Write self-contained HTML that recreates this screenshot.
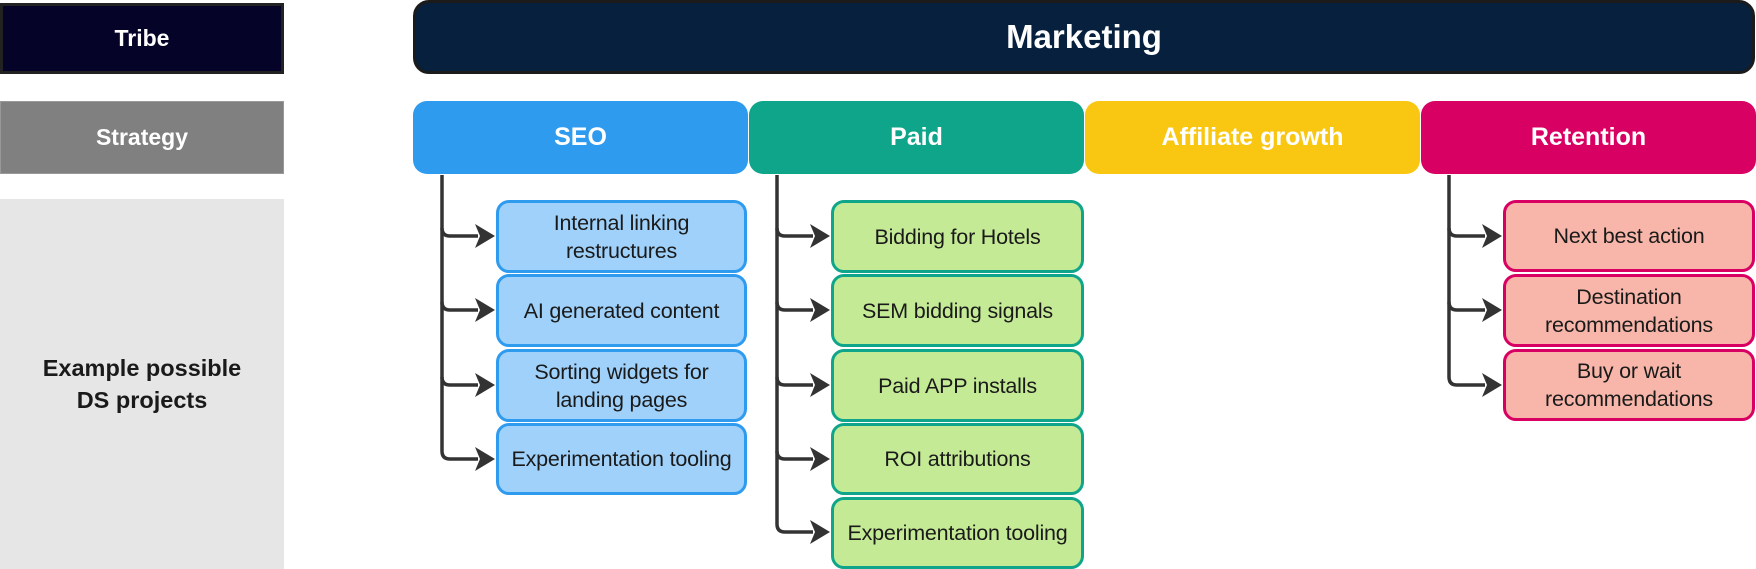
<!DOCTYPE html>
<html><head><meta charset="utf-8"><style>
*{box-sizing:border-box;margin:0;padding:0}
body{width:1756px;height:569px;background:#fff;position:relative;overflow:hidden;font-family:"Liberation Sans",sans-serif}
.b{position:absolute;display:flex;align-items:center;justify-content:center;text-align:center}
.h{color:#fff;font-weight:bold;font-size:25px}
.c{border:3px solid;border-radius:13px;font-size:21.5px;color:#1a1a1a;line-height:28px;letter-spacing:-0.2px}
.s{border-color:#2f9bef;background:#9fd1fb}
.p{border-color:#0ea58a;background:#c4ea96}
.r{border-color:#d80062;background:#f7b6a9}
</style></head><body>
<div class="b h" style="left:0;top:3px;width:284px;height:71px;background:#050327;border:3px solid #222;font-size:23px">Tribe</div>
<div class="b h" style="left:0;top:101px;width:284px;height:73px;background:#808080;border:1px solid #999;font-size:23px">Strategy</div>
<div class="b" style="left:0;top:199px;width:284px;height:370px;background:#e6e6e6;font-weight:bold;font-size:23.5px;color:#1a1a1a;line-height:32px">Example possible<br>DS projects</div>

<div class="b h" style="left:413px;top:0;width:1342px;height:74px;background:#06203d;border:3px solid #1b1b1b;border-radius:16px;font-size:33px">Marketing</div>

<div class="b h" style="left:413px;top:101px;width:335px;height:73px;background:#2f9bef;border-radius:14px">SEO</div>
<div class="b h" style="left:749px;top:101px;width:335px;height:73px;background:#0ea58a;border-radius:14px">Paid</div>
<div class="b h" style="left:1085px;top:101px;width:335px;height:73px;background:#f9c712;border-radius:14px">Affiliate growth</div>
<div class="b h" style="left:1421px;top:101px;width:335px;height:73px;background:#d80062;border-radius:14px">Retention</div>

<svg style="position:absolute;left:0;top:0" width="1756" height="569">
<g fill="none" stroke="#333" stroke-width="3.5">
<path d="M442 175 V228 q0 8 8 8 H478"/><path d="M442 228 V302 q0 8 8 8 H478"/><path d="M442 302 V377 q0 8 8 8 H478"/><path d="M442 377 V451 q0 8 8 8 H478"/>
<path d="M777 175 V228 q0 8 8 8 H813"/><path d="M777 228 V302 q0 8 8 8 H813"/><path d="M777 302 V377 q0 8 8 8 H813"/><path d="M777 377 V451 q0 8 8 8 H813"/><path d="M777 451 V524 q0 8 8 8 H813"/>
<path d="M1449 175 V228 q0 8 8 8 H1485"/><path d="M1449 228 V302 q0 8 8 8 H1485"/><path d="M1449 302 V377 q0 8 8 8 H1485"/>
</g>
<g fill="#333">
<path d="M495 236 L475 224 L480 236 L475 248Z"/><path d="M495 310 L475 298 L480 310 L475 322Z"/><path d="M495 385 L475 373 L480 385 L475 397Z"/><path d="M495 459 L475 447 L480 459 L475 471Z"/>
<path d="M830 236 L810 224 L815 236 L810 248Z"/><path d="M830 310 L810 298 L815 310 L810 322Z"/><path d="M830 385 L810 373 L815 385 L810 397Z"/><path d="M830 459 L810 447 L815 459 L810 471Z"/><path d="M830 532 L810 520 L815 532 L810 544Z"/>
<path d="M1502 236 L1482 224 L1487 236 L1482 248Z"/><path d="M1502 310 L1482 298 L1487 310 L1482 322Z"/><path d="M1502 385 L1482 373 L1487 385 L1482 397Z"/>
</g>
</svg>

<div class="b c s" style="left:496px;top:200px;width:251px;height:73px">Internal linking<br>restructures</div>
<div class="b c s" style="left:496px;top:274px;width:251px;height:73px">AI generated content</div>
<div class="b c s" style="left:496px;top:349px;width:251px;height:73px">Sorting widgets for<br>landing pages</div>
<div class="b c s" style="left:496px;top:423px;width:251px;height:72px">Experimentation tooling</div>

<div class="b c p" style="left:831px;top:200px;width:253px;height:73px">Bidding for Hotels</div>
<div class="b c p" style="left:831px;top:274px;width:253px;height:73px">SEM bidding signals</div>
<div class="b c p" style="left:831px;top:349px;width:253px;height:73px">Paid APP installs</div>
<div class="b c p" style="left:831px;top:423px;width:253px;height:72px">ROI attributions</div>
<div class="b c p" style="left:831px;top:497px;width:253px;height:72px">Experimentation tooling</div>

<div class="b c r" style="left:1503px;top:200px;width:252px;height:72px">Next best action</div>
<div class="b c r" style="left:1503px;top:274px;width:252px;height:73px">Destination<br>recommendations</div>
<div class="b c r" style="left:1503px;top:349px;width:252px;height:72px">Buy or wait<br>recommendations</div>
</body></html>
